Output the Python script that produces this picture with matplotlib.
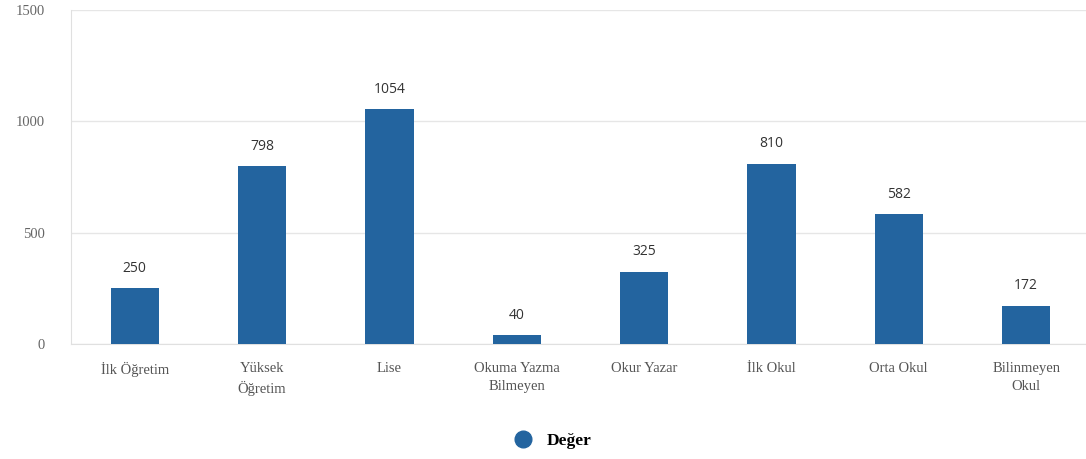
import numpy as np
import matplotlib.pyplot as plt

categories = ['İlk Öğretim', 'Yüksek\nÖğretim', 'Lise', 'Okuma Yazma\nBilmeyen',
              'Okur Yazar', 'İlk Okul', 'Orta Okul', 'Bilinmeyen\nOkul']
values = [250, 798, 1054, 40, 325, 810, 582, 172]
yticks = [0, 500, 1000, 1500]
series_name = 'Değer'

bar_color = '#23649f'

fig = plt.figure(figsize=(10.86, 4.59), dpi=100)
ax = fig.add_axes([0.0655, 0.2505, 0.938, 0.7275])

x = np.arange(len(categories))
ax.bar(x, values, width=0.38, color=bar_color, zorder=3)

for xi, v in zip(x, values):
    ax.annotate(str(v), (xi, v), xytext=(0, 9), textcoords='offset points',
                ha='center', va='bottom', fontsize=10, color='#333333',
                family='Open Sans')

ax.set_xlim(-0.5, len(categories) - 0.5)
ax.set_ylim(0, 1500)
ax.set_yticks(yticks)
ax.set_xticks(x)
ax.set_xticklabels(categories, family='Liberation Serif', fontsize=10.5,
                   color='#555555', linespacing=1.5)
for lab in ax.get_yticklabels():
    lab.set_family('Liberation Serif')
    lab.set_fontsize(10.5)
    lab.set_color('#666666')

ax.tick_params(axis='x', length=0, pad=13)
ax.tick_params(axis='y', length=0, pad=19)
ax.grid(axis='y', color='#e6e6e6', linewidth=1, zorder=0)
for side in ['top', 'right']:
    ax.spines[side].set_visible(False)
for side in ['left', 'bottom']:
    ax.spines[side].set_color('#e0e0e0')

h = plt.Line2D([], [], marker='o', linestyle='none', markersize=12,
               color=bar_color, label=series_name)
fig.legend(handles=[h], loc='center', bbox_to_anchor=(0.505, 0.04),
           frameon=False, handletextpad=0.4,
           prop={'family': 'Liberation Serif', 'weight': 'bold', 'size': 12.5})

fig.savefig('out.png', dpi=100)
